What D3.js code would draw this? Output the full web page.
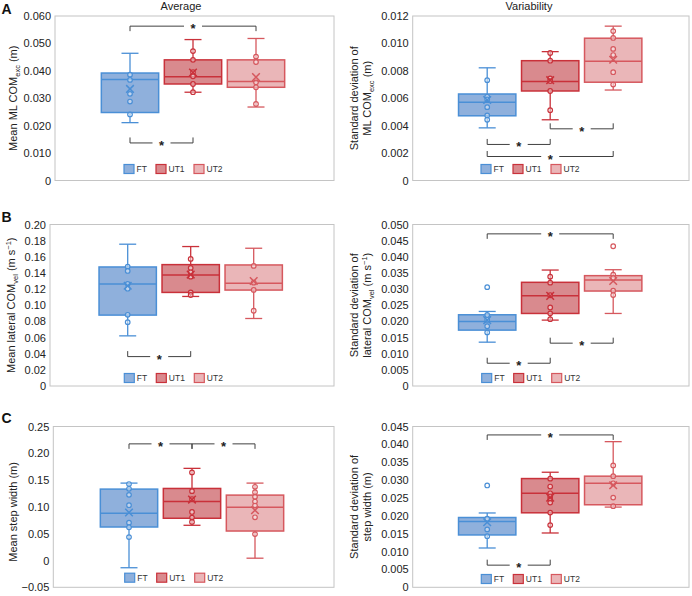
<!DOCTYPE html>
<html><head><meta charset="utf-8">
<script src="https://cdn.jsdelivr.net/npm/d3@7"></script>
<style>body{margin:0;background:#fff;} svg{display:block;font-family:"Liberation Sans",Arial,sans-serif;}</style>
</head><body><svg id="c" width="692" height="596"></svg>
<script>
const groups = ["FT", "UT1", "UT2"];

// stats per group: [whiskerLow, Q1, median, Q3, whiskerHigh, mean]
const avgExcStats = [[0.0211, 0.0248, 0.0368, 0.0392, 0.0464, 0.0334], [0.0322, 0.0352, 0.0378, 0.0440, 0.0514, 0.0394], [0.0268, 0.0340, 0.0361, 0.0440, 0.0518, 0.0377]];
const avgExcPoints = [[0.0386, 0.0367, 0.0316, 0.0288, 0.0241], [0.0472, 0.0440, 0.0395, 0.0380, 0.0352, 0.0322], [0.0452, 0.0432, 0.0358, 0.0340, 0.0279]];
const avgExcTicks = [0, 0.01, 0.02, 0.03, 0.04, 0.05, 0.06];
const avgExcSig = [[0, 2, 0.0563, "down"], [0, 1, 0.0137, "up"]];

const varExcStats = [[0.00384, 0.00472, 0.00570, 0.00631, 0.00822, 0.00587], [0.00443, 0.00653, 0.00722, 0.00874, 0.00940, 0.00732], [0.00660, 0.00717, 0.00869, 0.01038, 0.01126, 0.00881]];
const varExcPoints = [[0.00732, 0.00612, 0.00592, 0.00535, 0.00474, 0.00443], [0.0093, 0.00874, 0.00744, 0.00725, 0.00653, 0.00513], [0.0109, 0.0104, 0.0096, 0.00915, 0.0079, 0.0070]];
const varExcTicks = [0, 0.002, 0.004, 0.006, 0.008, 0.010, 0.012];
const varExcSig = [[1, 2, 0.00377, "up"], [0, 1, 0.00263, "up"], [0, 2, 0.00175, "up"]];

const avgVelStats = [[0.0621, 0.0878, 0.1263, 0.1474, 0.1756, 0.1242], [0.1109, 0.1159, 0.1375, 0.1503, 0.1727, 0.1380], [0.0836, 0.1188, 0.1271, 0.1499, 0.1706, 0.1300]];
const avgVelPoints = [[0.1478, 0.1425, 0.1265, 0.1205, 0.0882, 0.0791], [0.1574, 0.1462, 0.1408, 0.1354, 0.1160, 0.1127], [0.1487, 0.1280, 0.1190, 0.0932]];
const avgVelTicks = [0, 0.02, 0.04, 0.06, 0.08, 0.10, 0.12, 0.14, 0.16, 0.18, 0.20];
const avgVelSig = [[0, 1, 0.0364, "up"]];

const varVelStats = [[0.01357, 0.0173, 0.01997, 0.02205, 0.02308, 0.0204], [0.0204, 0.02246, 0.02795, 0.0321, 0.0359, 0.0279], [0.02246, 0.0294, 0.03282, 0.03416, 0.0360, 0.0325]];
const varVelPoints = [[0.0306, 0.0220, 0.0205, 0.0185, 0.0166], [0.03385, 0.0320, 0.0281, 0.0243, 0.0225, 0.0207], [0.04327, 0.03447, 0.03344, 0.0295, 0.02816]];
const varVelTicks = [0, 0.005, 0.010, 0.015, 0.020, 0.025, 0.030, 0.035, 0.040, 0.045, 0.050];
const varVelSig = [[0, 2, 0.0471, "down"], [1, 2, 0.01326, "up"], [0, 1, 0.00705, "up"]];

const avgStepStats = [[-0.0135, 0.0625, 0.0882, 0.1332, 0.1444, 0.0895], [0.0657, 0.0788, 0.1100, 0.1344, 0.1719, 0.1137], [0.0043, 0.0550, 0.0994, 0.1220, 0.1444, 0.0938]];
const avgStepPoints = [[0.1426, 0.1338, 0.1225, 0.1032, 0.0706, 0.0619, 0.0437], [0.1644, 0.1294, 0.1144, 0.0906, 0.0800, 0.0719], [0.1375, 0.1275, 0.1188, 0.1100, 0.1025, 0.0806, 0.0493]];
const avgStepTicks = [-0.05, 0, 0.05, 0.10, 0.15, 0.20, 0.25];
const avgStepSig = [[0, 1, 0.2176, "down"], [1, 2, 0.2176, "down"]];

const varStepStats = [[0.0110, 0.01465, 0.0184, 0.01953, 0.0208, 0.0182], [0.0152, 0.02085, 0.0263, 0.03043, 0.0322, 0.0251], [0.02245, 0.0231, 0.0291, 0.0311, 0.04076, 0.02855]];
const varStepPoints = [[0.0285, 0.0192, 0.0162, 0.0143], [0.0304, 0.0282, 0.0263, 0.0254, 0.0246, 0.0237, 0.0209, 0.0174], [0.0341, 0.0311, 0.0291, 0.0251, 0.0227]];
const varStepTicks = [0, 0.005, 0.010, 0.015, 0.020, 0.025, 0.030, 0.035, 0.040, 0.045];
const varStepSig = [[0, 2, 0.04264, "down"], [0, 1, 0.0062, "up"]];

const strokeC = {FT: "#4a8fd6", UT1: "#c9313a", UT2: "#d6585e"};
const fillC = {FT: "#8fb0dc", UT1: "#d98a8e", UT2: "#eab6b8"};

const panels = [
  {stats: avgExcStats, pts: avgExcPoints, ticks: avgExcTicks, sig: avgExcSig, fmt: ".3f",
   x0: 55, x1: 334, y0: 16, y1: 180.5, cx: 193, legend: [124, 169],
   labels: [[["Mean ML COM", ""], ["exc", "sub"], [" (m)", ""]]], labelX: [16.5]},
  {stats: varExcStats, pts: varExcPoints, ticks: varExcTicks, sig: varExcSig, fmt: ".3f",
   x0: 412.7, x1: 689, y0: 16, y1: 180.5, cx: 550.2, legend: [481, 169],
   labels: [[["Standard deviation of", ""]], [["ML COM", ""], ["exc", "sub"], [" (m)", ""]]], labelX: [357.5, 371]},
  {stats: avgVelStats, pts: avgVelPoints, ticks: avgVelTicks, sig: avgVelSig, fmt: ".2f",
   x0: 50, x1: 334, y0: 224.5, y1: 386, cx: 190.7, legend: [124.3, 378],
   labels: [[["Mean lateral COM", ""], ["vel", "sub"], [" (m s", ""], ["\u22121", "sup"], [")", ""]]], labelX: [15]},
  {stats: varVelStats, pts: varVelPoints, ticks: varVelTicks, sig: varVelSig, fmt: ".3f",
   x0: 412.7, x1: 689, y0: 224.5, y1: 386, cx: 550.2, legend: [481.7, 378],
   labels: [[["Standard deviation of", ""]], [["lateral COM", ""], ["vel", "sub"], [" (m s", ""], ["\u22121", "sup"], [")", ""]]], labelX: [357.5, 371]},
  {stats: avgStepStats, pts: avgStepPoints, ticks: avgStepTicks, sig: avgStepSig, fmt: ".2f",
   x0: 53.3, x1: 334, y0: 426.5, y1: 587.3, cx: 192, legend: [124.7, 577.7],
   labels: [[["Mean step width (m)", ""]]], labelX: [16.5], labelDY: 5},
  {stats: varStepStats, pts: varStepPoints, ticks: varStepTicks, sig: varStepSig, fmt: ".3f",
   x0: 412.7, x1: 689, y0: 426.5, y1: 587.3, cx: 550.2, legend: [481.3, 579],
   labels: [[["Standard deviation of", ""]], [["step width (m)", ""]]], labelX: [357.5, 371]}
];

const svg = d3.select("#c");
svg.append("rect").attr("width", 692).attr("height", 596).attr("fill", "#fff");

panels.forEach(p => {
  const g = svg.append("g");
  const dom = [p.ticks[0], p.ticks[p.ticks.length - 1]];
  const y = d3.scaleLinear().domain(dom).range([p.y1, p.y0]);
  const x = d3.scaleBand().domain(groups).range([p.cx - 94.5, p.cx + 94.5]).paddingInner(0.09).paddingOuter(0.045);
  const bw = x.bandwidth();
  const xc = k => x(k) + bw / 2;

  // frame
  g.append("rect").attr("x", p.x0).attr("y", p.y0).attr("width", p.x1 - p.x0).attr("height", p.y1 - p.y0)
    .attr("fill", "none").attr("stroke", "#c4c4c4").attr("stroke-width", 1);

  // y axis
  const f = d3.format(p.fmt);
  const ax = d3.axisLeft(y).tickValues(p.ticks).tickSize(0).tickPadding(4)
    .tickFormat(v => v === 0 ? "0" : f(v));
  const axg = g.append("g").attr("transform", `translate(${p.x0},0)`).call(ax);
  axg.select(".domain").remove();
  axg.selectAll("text").attr("font-size", 11).attr("fill", "#222").attr("font-family", "Liberation Sans, Arial, sans-serif");

  // axis title
  const cy = (p.y0 + p.y1) / 2 + (p.labelDY || 0);
  p.labels.forEach((line, li) => {
    const t = g.append("text").attr("transform", `translate(${p.labelX[li]},${cy}) rotate(-90)`)
      .attr("text-anchor", "middle").attr("font-size", 11).attr("fill", "#222");
    let shift = 0;
    line.forEach(([txt, kind]) => {
      const ts = t.append("tspan").text(txt);
      let target = 0;
      if (kind === "sub") { ts.attr("font-size", 7.5); target = 3; }
      else if (kind === "sup") { ts.attr("font-size", 7.5); target = -4; }
      ts.attr("dy", target - shift);
      shift = target;
    });
  });

  // boxes
  groups.forEach((k, i) => {
    const s = p.stats[i];
    const c = xc(k);
    const col = strokeC[k];
    const bg = g.append("g");
    // whiskers
    bg.append("line").attr("x1", c).attr("x2", c).attr("y1", y(s[3])).attr("y2", y(s[4])).attr("stroke", col).attr("stroke-width", 1.3);
    bg.append("line").attr("x1", c).attr("x2", c).attr("y1", y(s[1])).attr("y2", y(s[0])).attr("stroke", col).attr("stroke-width", 1.3);
    [s[0], s[4]].forEach(v => bg.append("line").attr("x1", c - 8.5).attr("x2", c + 8.5).attr("y1", y(v)).attr("y2", y(v)).attr("stroke", col).attr("stroke-width", 1.3));
    // box
    bg.append("rect").attr("x", x(k)).attr("y", y(s[3])).attr("width", bw).attr("height", y(s[1]) - y(s[3]))
      .attr("fill", fillC[k]).attr("stroke", col).attr("stroke-width", 1.5);
    bg.append("line").attr("x1", x(k)).attr("x2", x(k) + bw).attr("y1", y(s[2])).attr("y2", y(s[2])).attr("stroke", col).attr("stroke-width", 1.5);
    // points
    p.pts[i].forEach(v => bg.append("circle").attr("cx", c).attr("cy", y(v)).attr("r", 2.3)
      .attr("fill", "rgba(255,255,255,0.45)").attr("stroke", col).attr("stroke-width", 1.2));
    // mean X
    const my = y(s[5]), r = 3.8;
    bg.append("path").attr("d", `M${c - r},${my - r}L${c + r},${my + r}M${c - r},${my + r}L${c + r},${my - r}`)
      .attr("stroke", col).attr("stroke-width", 1.5).attr("fill", "none");
  });

  // significance brackets
  p.sig.forEach(([a, b, v, dir]) => {
    const xa = xc(groups[a]), xb = xc(groups[b]);
    const yy = y(v);
    const tk = dir === "down" ? 5 : -5.5;
    const mid = (xa + xb) / 2;
    const gap = 9;
    const sg = g.append("g").attr("stroke", "#404040").attr("stroke-width", 1).attr("fill", "none");
    sg.append("path").attr("d", `M${xa},${yy + tk}L${xa},${yy}L${mid - gap},${yy}`);
    sg.append("path").attr("d", `M${mid + gap},${yy}L${xb},${yy}L${xb},${yy + tk}`);
    g.append("text").attr("x", mid).attr("y", yy + 7).attr("text-anchor", "middle")
      .attr("font-size", 13).attr("font-weight", "bold").attr("fill", "#222").text("*");
  });

  // legend
  const offs = [0, 32, 70];
  groups.forEach((k, i) => {
    const lx = p.legend[0] + offs[i], ly = p.legend[1];
    g.append("rect").attr("x", lx).attr("y", ly - 4.5).attr("width", 10).attr("height", 9)
      .attr("fill", fillC[k]).attr("stroke", strokeC[k]).attr("stroke-width", 1.2);
    g.append("text").attr("x", lx + 12.5).attr("y", ly + 3.2).attr("font-size", 8.5).attr("fill", "#333").text(k);
  });
});

// titles & panel letters
svg.append("text").attr("x", 181).attr("y", 10).attr("text-anchor", "middle").attr("font-size", 11).attr("fill", "#222").text("Average");
svg.append("text").attr("x", 529).attr("y", 10).attr("text-anchor", "middle").attr("font-size", 11).attr("fill", "#222").text("Variability");
[["A", 14], ["B", 222], ["C", 423]].forEach(([l, yy]) =>
  svg.append("text").attr("x", 1.5).attr("y", yy).attr("font-size", 14).attr("font-weight", "bold").attr("fill", "#111").text(l));
</script>
</body></html>
